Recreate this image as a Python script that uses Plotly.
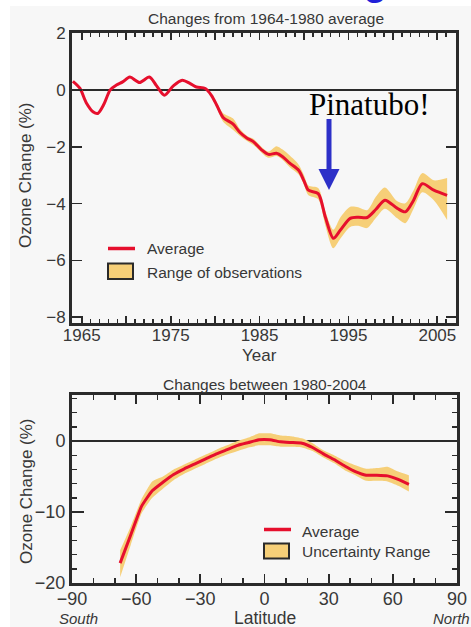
import plotly.graph_objects as go

# ---------------- data: top panel (ozone change vs year) ----------------
years = [1964.0, 1964.8, 1965.5, 1966.3, 1966.8, 1967.5, 1968.2, 1968.9, 1969.6, 1970.4,
         1971.5, 1972.6, 1973.4, 1974.3, 1975.3, 1976.3, 1977.2, 1977.9, 1978.9, 1979.6,
         1980.2, 1980.9, 1982.0, 1982.8, 1983.6, 1984.3, 1985.2, 1986.0, 1986.9, 1987.6,
         1988.4, 1989.4, 1990.0, 1990.5, 1991.6, 1992.4, 1993.3, 1994.1, 1995.2, 1996.1,
         1997.1, 1998.1, 1999.1, 2000.5, 2001.4, 2002.3, 2003.3, 2004.6, 2006.1]
avg = [0.30, 0.05, -0.45, -0.78, -0.83, -0.50, 0.00, 0.17, 0.28, 0.45,
       0.26, 0.45, 0.15, -0.19, 0.14, 0.34, 0.22, 0.10, 0.05, -0.20,
       -0.55, -0.97, -1.20, -1.50, -1.70, -1.82, -2.10, -2.27, -2.23, -2.35,
       -2.58, -2.83, -3.20, -3.53, -3.65, -4.47, -5.22, -4.93, -4.52, -4.48,
       -4.49, -4.20, -3.88, -4.17, -4.29, -3.90, -3.30, -3.53, -3.71]
obs_upper = [0.30, 0.05, -0.45, -0.78, -0.83, -0.50, 0.00, 0.17, 0.28, 0.45,
             0.26, 0.45, 0.15, -0.19, 0.14, 0.34, 0.22, 0.10, 0.05, -0.15,
             -0.45, -0.82, -1.00, -1.38, -1.62, -1.72, -2.00, -2.17, -1.98, -2.10,
             -2.31, -2.63, -3.00, -3.36, -3.45, -4.27, -4.92, -4.48, -4.11, -4.13,
             -4.23, -3.75, -3.43, -3.92, -3.99, -3.55, -2.93, -3.18, -3.10]
obs_lower = [0.30, 0.05, -0.45, -0.78, -0.83, -0.50, 0.00, 0.17, 0.28, 0.45,
             0.26, 0.45, 0.15, -0.19, 0.14, 0.34, 0.22, 0.10, 0.05, -0.25,
             -0.65, -1.12, -1.40, -1.62, -1.80, -1.94, -2.20, -2.39, -2.33, -2.47,
             -2.72, -2.98, -3.35, -3.71, -3.85, -4.77, -5.57, -5.23, -4.82, -4.78,
             -4.86, -4.50, -4.18, -4.52, -4.69, -4.20, -3.60, -3.88, -4.58]

year_tickvals = [1965, 1970, 1975, 1980, 1985, 1990, 1995, 2000, 2005]
year_ticktext = ["1965", "", "1975", "", "1985", "", "1995", "", "2005"]
top_y_ticks = [-8, -6, -4, -2, 0, 2]

# ---------------- data: bottom panel (ozone change vs latitude) ----------------
lat = [-67.5, -62.5, -57.5, -52.5, -47.5, -42.5, -37.5, -32.5, -27.5, -22.5,
       -17.5, -12.5, -7.5, -2.5, 2.5, 7.5, 12.5, 17.5, 22.5, 27.5,
       32.5, 37.5, 42.5, 47.5, 52.5, 57.5, 62.5, 67.5]
lat_avg = [-17.2, -13.2, -9.2, -7.0, -5.8, -4.7, -3.9, -3.2, -2.5, -1.8,
           -1.2, -0.6, -0.2, 0.2, 0.2, -0.1, -0.2, -0.3, -0.9, -1.8,
           -2.6, -3.5, -4.3, -4.8, -4.8, -4.9, -5.4, -6.1]
lat_upper = [-15.4, -12.0, -8.2, -5.7, -5.0, -4.0, -3.3, -2.6, -1.9, -1.2,
             -0.6, 0.0, 0.5, 1.1, 1.1, 0.8, 0.7, 0.4, -0.3, -1.3,
             -2.0, -2.8, -3.4, -3.9, -3.8, -3.6, -4.3, -4.8]
lat_lower = [-19.2, -14.6, -10.2, -8.0, -6.7, -5.5, -4.6, -3.9, -3.2, -2.5,
             -1.9, -1.4, -0.9, -0.6, -0.6, -0.8, -0.8, -0.9, -1.4, -2.3,
             -3.1, -4.1, -4.8, -5.6, -5.6, -5.7, -6.3, -7.1]

lat_tickvals = [-90, -60, -30, 0, 30, 60, 90]
bottom_y_ticks = [-20, -10, 0]

# ---------------- styling ----------------
W, H = 471, 627
def px(x):
    return x / W
def py(y):
    return 1 - y / H

RED = "#e60f2d"
BAND = "#f6cf78"
FRAME = "#2a2a2a"
TXT = "#383838"
FONT = "Liberation Sans, Arial, sans-serif"

fig = go.Figure()

# top panel traces
fig.add_trace(go.Scatter(x=years, y=obs_lower, mode="lines",
                         line=dict(width=0, shape="spline", smoothing=0.8),
                         hoverinfo="skip", showlegend=False, xaxis="x", yaxis="y"))
fig.add_trace(go.Scatter(x=years, y=obs_upper, mode="lines",
                         line=dict(width=0, shape="spline", smoothing=0.8),
                         fill="tonexty", fillcolor=BAND,
                         name="Range of observations", showlegend=False, xaxis="x", yaxis="y"))
fig.add_trace(go.Scatter(x=years, y=avg, mode="lines",
                         line=dict(color=RED, width=3, shape="spline", smoothing=0.8),
                         name="Average", showlegend=False, xaxis="x", yaxis="y"))

# bottom panel traces
fig.add_trace(go.Scatter(x=lat, y=lat_lower, mode="lines",
                         line=dict(width=0, shape="spline", smoothing=0.4),
                         hoverinfo="skip", showlegend=False, xaxis="x2", yaxis="y2"))
fig.add_trace(go.Scatter(x=lat, y=lat_upper, mode="lines",
                         line=dict(width=0, shape="spline", smoothing=0.4),
                         fill="tonexty", fillcolor=BAND,
                         name="Uncertainty Range", showlegend=False, xaxis="x2", yaxis="y2"))
fig.add_trace(go.Scatter(x=lat, y=lat_avg, mode="lines",
                         line=dict(color=RED, width=3, shape="spline", smoothing=0.4),
                         name="Average", showlegend=False, xaxis="x2", yaxis="y2"))

axis_common = dict(showline=True, linewidth=3, linecolor=FRAME, mirror="ticks",
                   ticks="inside", tickcolor=FRAME, tickwidth=1.8,
                   showgrid=False, fixedrange=True, automargin=False)

fig.update_layout(
    width=W, height=H,
    margin=dict(l=0, r=0, t=0, b=0, autoexpand=False),
    paper_bgcolor="white",
    plot_bgcolor="#f1f4ec",
    showlegend=False,
    font=dict(family=FONT, color=TXT),
    xaxis=dict(domain=[px(72), px(456)], range=[1963.9, 2007.1], anchor="y",
               tickmode="array", tickvals=year_tickvals, ticktext=year_ticktext,
               ticklen=7, zeroline=False, ticklabelstandoff=-5,
               minor=dict(ticks="inside", dtick=1, tick0=1964, ticklen=4,
                          tickcolor=FRAME, tickwidth=1.5),
               tickfont=dict(size=17, color=TXT), **axis_common),
    yaxis=dict(domain=[py(323), py(33)], range=[-8.2, 2.0], anchor="x",
               tickmode="array", tickvals=top_y_ticks, ticklen=10,
               zeroline=True, zerolinecolor=FRAME, zerolinewidth=2,
               tickfont=dict(size=17, color=TXT), **axis_common),
    xaxis2=dict(domain=[px(72), px(457)], range=[-90, 90], anchor="y2",
                tickmode="array", tickvals=lat_tickvals, ticklen=9, zeroline=False,
                ticklabelstandoff=-3,
                minor=dict(ticks="inside", dtick=10, tick0=-90, ticklen=5,
                           tickcolor=FRAME, tickwidth=1.5),
                tickfont=dict(size=18, color=TXT), **axis_common),
    yaxis2=dict(domain=[py(583), py(395)], range=[-20, 6.5], anchor="x2",
                tickmode="array", tickvals=bottom_y_ticks, ticklen=12,
                zeroline=True, zerolinecolor=FRAME, zerolinewidth=2.5,
                minor=dict(ticks="inside", dtick=2, tick0=0, ticklen=5,
                           tickcolor=FRAME, tickwidth=1.5),
                tickfont=dict(size=18, color=TXT), **axis_common),
)

shapes = [
    # light grey page panel
    dict(type="rect", xref="paper", yref="paper", layer="below",
         x0=px(10), x1=1, y0=0, y1=py(6), fillcolor="#f7f7f7", line=dict(width=0)),
    # top legend swatches
    dict(type="line", xref="paper", yref="paper", x0=px(108), x1=px(135),
         y0=py(248.5), y1=py(248.5), line=dict(color=RED, width=3.5)),
    dict(type="rect", xref="paper", yref="paper", x0=px(108), x1=px(133),
         y0=py(279), y1=py(263.5), fillcolor=BAND, line=dict(color=FRAME, width=2)),
    # bottom legend swatches
    dict(type="line", xref="paper", yref="paper", x0=px(264), x1=px(291),
         y0=py(529.5), y1=py(529.5), line=dict(color=RED, width=3.5)),
    dict(type="rect", xref="paper", yref="paper", x0=px(264), x1=px(289),
         y0=py(558.5), y1=py(543.5), fillcolor=BAND, line=dict(color=FRAME, width=2)),
    # Pinatubo arrow (shaft + head)
    dict(type="rect", xref="paper", yref="paper", x0=px(326.5), x1=px(331.5),
         y0=py(171), y1=py(119), fillcolor="#2d30c8", line=dict(width=0)),
    dict(type="path", xref="paper", yref="paper",
         path=f"M {px(318.5)},{py(169)} L {px(339.5)},{py(169)} L {px(329)},{py(190)} Z",
         fillcolor="#2d30c8", line=dict(width=0)),
]
fig.update_layout(shapes=shapes)

def ann(text, x, y, size, xanchor="center", yanchor="middle", color=TXT,
        family=FONT, textangle=0):
    return dict(text=text, x=px(x), y=py(y), xref="paper", yref="paper",
                showarrow=False, xanchor=xanchor, yanchor=yanchor,
                textangle=textangle, font=dict(size=size, color=color, family=family))

annotations = [
    ann("g", 375, -21.5, 44, color="#2020d8"),
    ann("Changes from 1964-1980 average", 265.5, 19, 15.5),
    ann("Changes between 1980-2004", 265, 384, 15.5),
    ann("Ozone Change (%)", 26, 175, 17, textangle=-90),
    ann("Ozone Change (%)", 26, 491, 17, textangle=-90),
    ann("Year", 259, 355, 17),
    ann("Latitude", 265, 618, 17.5),
    ann("<i>South</i>", 78, 618, 15),
    ann("<i>North</i>", 451, 618, 15),
    ann("Average", 145, 249, 15.5, xanchor="left"),
    ann("Range of observations", 145, 272, 15.5, xanchor="left"),
    ann("Average", 300, 531, 15.5, xanchor="left"),
    ann("Uncertainty Range", 300, 551, 15.5, xanchor="left"),
    ann("Pinatubo!", 369, 105, 31, color="black",
        family="Liberation Serif, Times New Roman, serif"),
]
fig.update_layout(annotations=annotations)

fig.write_html(
    "out.html",
    config={"displayModeBar": False, "staticPlot": True},
    post_script="document.body.style.margin='0';document.body.style.overflow='hidden';",
)
